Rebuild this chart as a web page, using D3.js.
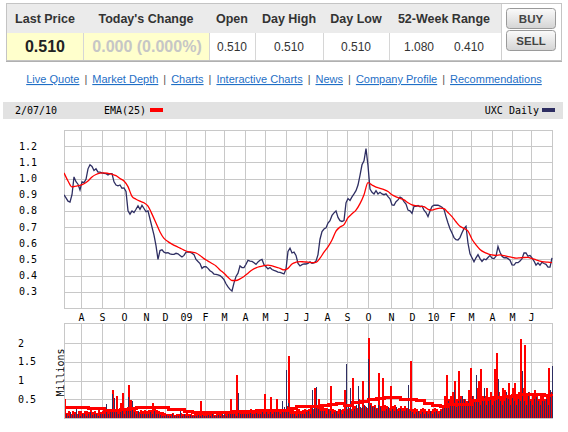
<!DOCTYPE html>
<html><head><meta charset="utf-8">
<script src="https://cdn.jsdelivr.net/npm/d3@7"></script>
<style>body{margin:0;background:#fff}svg{display:block}</style>
</head><body>
<svg id="c" width="568" height="432"></svg>
<script>
// ---------- DATA ----------
const headerLabels = ["Last Price","Today's Change","Open","Day High","Day Low","52-Week Range"];
const lastPrice = "0.510";
const todaysChange = "0.000 (0.000%)";
const quoteValues = ["0.510","0.510","0.510"];      // Open, Day High, Day Low
const rangeValues = ["1.080","0.410"];              // 52-week high / low
const buttonLabels = ["BUY","SELL"];
const linkLabels = ["Live Quote","Market Depth","Charts","Interactive Charts","News","Company Profile","Recommendations"];
const chartDate = "2/07/10";
const emaLabel = "EMA(25)";
const seriesLabel = "UXC Daily";

const monthLabels = ["A","S","O","N","D","09","F","M","A","M","J","J","A","S","O","N","D","10","F","M","A","M","J"];
const monthDays   = [17,38,60,82,101,122,141,160,181,201,222,242,263,283,304,327,348,369,388,407,428,448,467];
const priceTicks = [0.3,0.4,0.5,0.6,0.7,0.8,0.9,1.0,1.1,1.2];
const volTicks = [0.5,1,1.5,2];
const volTickLabels = ["0.5","1","1.5","2"];

// daily close, one value every 2 trading days
const price = [
0.90,0.88,0.86,0.855,0.90,1.01,0.98,0.965,0.93,0.98,
0.975,0.995,1.06,1.085,1.075,1.05,1.06,1.04,1.04,1.035,
1.032,1.03,1.022,1.03,1.03,0.98,0.96,0.955,0.96,0.94,
0.942,0.92,0.80,0.78,0.80,0.79,0.81,0.832,0.81,0.834,
0.815,0.795,0.80,0.75,0.70,0.65,0.585,0.50,0.555,0.56,
0.545,0.54,0.542,0.535,0.532,0.532,0.538,0.535,0.525,0.515,
0.525,0.545,0.545,0.545,0.538,0.53,0.50,0.487,0.475,0.445,
0.455,0.455,0.445,0.43,0.422,0.41,0.408,0.405,0.40,0.39,
0.375,0.35,0.33,0.315,0.305,0.355,0.395,0.415,0.46,0.45,
0.45,0.47,0.495,0.49,0.488,0.48,0.47,0.485,0.495,0.50,
0.468,0.455,0.442,0.45,0.438,0.432,0.428,0.422,0.42,0.415,
0.41,0.44,0.55,0.57,0.54,0.545,0.525,0.475,0.46,0.468,
0.472,0.472,0.475,0.485,0.476,0.478,0.49,0.53,0.625,0.672,
0.688,0.695,0.725,0.74,0.772,0.788,0.80,0.76,0.74,0.735,
0.74,0.85,0.876,0.865,0.887,0.905,0.925,0.96,1.02,1.085,
1.11,1.185,1.08,0.935,0.915,0.905,0.925,0.905,0.915,0.905,
0.90,0.905,0.888,0.875,0.837,0.835,0.857,0.868,0.885,0.878,
0.858,0.842,0.805,0.80,0.785,0.828,0.828,0.833,0.825,0.83,
0.805,0.79,0.765,0.80,0.828,0.835,0.835,0.835,0.83,0.823,
0.81,0.765,0.725,0.69,0.663,0.635,0.622,0.62,0.635,0.665,
0.69,0.705,0.60,0.535,0.51,0.485,0.51,0.53,0.505,0.488,
0.503,0.498,0.512,0.525,0.508,0.505,0.52,0.58,0.545,0.52,
0.51,0.512,0.505,0.495,0.467,0.465,0.48,0.48,0.49,0.505,
0.54,0.54,0.52,0.525,0.51,0.49,0.465,0.478,0.465,0.483,
0.475,0.47,0.452,0.452,0.51];
const priceStep = 2;

// EMA(25), one value every 4 trading days
const ema = [
1.035,0.985,0.948,0.953,0.958,0.968,0.985,1.01,1.025,1.033,
1.035,1.032,1.027,1.018,1.0,0.985,0.95,0.89,0.872,0.86,
0.85,0.83,0.78,0.725,0.67,0.63,0.61,0.595,0.582,0.57,
0.558,0.548,0.545,0.54,0.525,0.505,0.49,0.475,0.46,0.435,
0.415,0.39,0.37,0.37,0.38,0.395,0.415,0.435,0.448,0.456,
0.462,0.465,0.46,0.452,0.445,0.435,0.445,0.472,0.483,0.487,
0.485,0.483,0.48,0.482,0.508,0.545,0.578,0.62,0.675,0.70,
0.715,0.758,0.782,0.805,0.845,0.9,0.975,0.96,0.947,0.94,
0.932,0.92,0.9,0.887,0.877,0.868,0.85,0.837,0.832,0.829,
0.826,0.81,0.805,0.812,0.817,0.814,0.79,0.765,0.733,0.705,
0.692,0.675,0.625,0.59,0.562,0.545,0.535,0.528,0.525,0.528,
0.523,0.518,0.513,0.508,0.51,0.512,0.513,0.505,0.498,0.49,
0.485,0.483,0.48];
const emaStep = 4;

// volume (millions), every 2 trading days: up-day (navy) and down-day (red)
const volUp = [
0.08,0.1,0.05,0.15,0.08,0.12,0.32,0.1,0.06,0.12,
0.1,0.06,0.12,0.15,0.08,0.1,0.12,0.06,0.1,0.12,
0.12,0.37,0.1,0.15,0.65,0.53,0.2,0.12,0.15,0.2,
0.12,0.2,0.55,0.2,0.45,0.15,0.12,0.2,0.12,0.12,
0.1,0.12,0.12,0.15,0.12,0.2,0.12,0.1,0.08,0.06,
0.06,0.08,0.05,0.06,0.1,0.06,0.05,0.06,0.25,0.06,
0.1,0.06,0.05,0.08,0.06,0.05,0.06,0.08,0.06,0.08,
0.06,0.05,0.08,0.06,0.12,0.05,0.06,0.08,0.05,0.1,
0.12,0.06,0.1,0.12,0.2,0.12,0.06,0.68,0.12,0.1,
0.12,0.1,0.12,0.15,0.1,0.12,0.2,0.1,0.12,0.15,
0.12,0.2,0.1,0.15,0.12,0.25,0.15,0.2,0.12,0.45,
0.3,1.28,0.4,0.12,0.1,0.12,0.06,0.12,0.1,0.12,
0.12,0.15,0.2,0.12,0.74,0.3,0.83,0.25,0.2,0.2,
0.2,0.12,0.25,0.2,0.12,0.15,0.2,0.12,0.25,0.12,
0.2,1.44,0.3,0.8,0.2,0.25,0.35,0.85,0.3,0.3,
0.35,0.3,1.57,0.35,0.3,0.3,0.25,0.35,0.3,0.2,
0.2,0.25,0.3,0.2,0.25,0.2,0.3,0.2,0.25,0.2,
0.2,0.25,0.89,0.2,0.15,0.12,0.15,0.2,0.12,0.15,
0.12,0.15,0.12,0.2,0.12,0.15,0.2,0.12,0.2,0.25,
0.35,0.3,0.45,0.35,0.4,0.74,0.3,0.45,0.5,0.6,
0.5,0.35,0.45,0.35,0.6,0.45,1.14,0.5,0.35,0.45,
0.8,0.35,0.45,0.5,0.35,0.45,0.6,1.03,0.45,0.35,
0.45,0.7,0.5,0.35,0.6,0.45,0.35,0.5,0.45,1.25,
0.45,0.35,0.7,0.45,0.35,0.5,0.55,0.45,0.35,0.45,
0.45,0.5,0.35,0.74,1.39];
const volDown = [
0.5,0.14,0.18,0.12,0.2,0.15,0.1,0.18,0.18,0.14,
0.18,0.2,0.15,0.22,0.17,0.2,0.14,0.22,0.17,0.18,
0.2,0.17,0.22,0.25,0.74,0.22,0.6,0.2,0.4,0.66,
0.22,0.2,0.89,0.48,0.25,0.22,0.2,0.17,0.22,0.2,
0.22,0.2,0.22,0.22,0.41,0.25,0.22,0.2,0.15,0.17,
0.14,0.12,0.1,0.1,0.14,0.08,0.11,0.1,0.14,0.11,
0.11,0.14,0.1,0.11,0.08,0.14,0.11,0.14,0.46,0.11,
0.17,0.14,0.2,0.11,0.14,0.08,0.1,0.11,0.14,0.08,
0.11,0.14,0.2,0.5,0.15,0.17,1.14,0.2,0.17,0.15,
0.2,0.15,0.18,0.25,0.15,0.2,0.18,0.15,0.2,0.25,
0.65,0.2,0.18,0.55,0.25,0.2,0.5,0.2,0.2,0.2,
0.25,0.32,1.65,0.28,0.24,0.19,0.21,0.24,0.19,0.21,
0.24,0.22,0.24,0.28,0.24,0.8,0.26,0.5,0.28,0.32,
0.26,0.28,0.24,0.86,0.24,0.22,0.19,0.24,0.22,0.24,
0.74,0.24,0.28,0.24,1.07,0.32,0.28,0.5,0.28,0.98,
0.32,0.28,2.15,0.4,0.32,0.36,0.28,1.19,0.32,1.07,
0.36,0.32,0.28,0.86,0.32,0.36,0.24,0.28,0.32,0.28,
0.32,0.28,0.24,1.53,0.24,0.28,0.24,0.2,0.24,0.28,
0.24,0.2,0.24,0.2,0.24,0.28,0.24,0.2,0.24,0.32,
0.6,1.16,0.5,0.6,0.7,1.0,0.5,1.25,0.6,0.5,
0.5,0.45,0.75,1.35,0.6,0.5,0.8,1.0,1.3,0.6,
0.6,0.8,0.5,0.7,0.6,1.3,1.75,0.7,0.6,0.8,
0.75,0.6,0.94,0.6,0.8,0.94,0.6,0.7,2.12,0.8,
1.94,0.6,0.7,0.5,0.6,0.75,0.6,0.5,0.66,0.6,
0.5,0.6,1.35,0.7,0.6];
const volStep = 2;

// volume moving average (millions), one value every 8 trading days
const volAvg = [
0.27,0.27,0.27,0.26,0.25,0.2,0.2,0.22,0.26,0.28,
0.28,0.28,0.27,0.23,0.22,0.18,0.16,0.15,0.14,0.14,
0.14,0.17,0.18,0.18,0.19,0.21,0.21,0.21,0.25,0.3,
0.3,0.32,0.33,0.36,0.38,0.33,0.42,0.45,0.5,0.52,
0.55,0.55,0.5,0.5,0.48,0.4,0.33,0.32,0.35,0.37,
0.35,0.46,0.5,0.53,0.55,0.57,0.6,0.62,0.62,0.62,
0.6,0.58];
const volAvgStep = 8;
const totalDays = 488;

// ---------- DRAW ----------
const svg = d3.select("#c");
const SANS = "'Liberation Sans', Arial, sans-serif";
const MONO = "'DejaVu Sans Mono', monospace";
const NAVY = "#2e2e62";
const RED = "#ff0000";
const GRID = "#c8c8c8";

// quote table
const colEdges = [6,83,209,255,323,389,501,561];
const tbl = svg.append("g");
tbl.append("rect").attr("x",6).attr("y",3).attr("width",495).attr("height",30).attr("fill","#ebebeb");
tbl.append("rect").attr("x",6).attr("y",33).attr("width",203).attr("height",28).attr("fill","#ffffcc");
tbl.append("rect").attr("x",209).attr("y",33).attr("width",292).attr("height",28).attr("fill","#ffffff");
tbl.selectAll("line.sep").data(colEdges.slice(1,6)).join("line")
  .attr("x1",d=>d+0.5).attr("x2",d=>d+0.5).attr("y1",33).attr("y2",61)
  .attr("stroke","#d6d6d6");
tbl.append("line").attr("x1",501.5).attr("x2",501.5).attr("y1",3).attr("y2",61).attr("stroke","#cfcfcf");
tbl.append("rect").attr("x",6.5).attr("y",3.5).attr("width",555).attr("height",57)
  .attr("fill","none").attr("stroke","#c4c4c4");
tbl.append("line").attr("x1",6).attr("x2",562).attr("y1",61.5).attr("y2",61.5).attr("stroke","#b0b0b0");

const colCenters = [45,146,232,289,356,444];
tbl.selectAll("text.h").data(headerLabels).join("text")
  .attr("x",(d,i)=>colCenters[i]).attr("y",23).attr("text-anchor","middle")
  .attr("font-family",SANS).attr("font-weight","bold").attr("font-size","12.5px").attr("fill","#333")
  .text(d=>d);
tbl.append("text").attr("x",45).attr("y",52).attr("text-anchor","middle")
  .attr("font-family",SANS).attr("font-weight","bold").attr("font-size","16px").attr("fill","#222").text(lastPrice);
tbl.append("text").attr("x",147).attr("y",52).attr("text-anchor","middle")
  .attr("font-family",SANS).attr("font-weight","bold").attr("font-size","16px").attr("fill","#c6c6c6").text(todaysChange);
const valCenters = [232,289,356];
tbl.selectAll("text.v").data(quoteValues).join("text")
  .attr("x",(d,i)=>valCenters[i]).attr("y",51).attr("text-anchor","middle")
  .attr("font-family",SANS).attr("font-size","12px").attr("fill","#333").text(d=>d);
const rangeCenters = [419,469];
tbl.selectAll("text.r").data(rangeValues).join("text")
  .attr("x",(d,i)=>rangeCenters[i]).attr("y",51).attr("text-anchor","middle")
  .attr("font-family",SANS).attr("font-size","12px").attr("fill","#333").text(d=>d);

// buttons
const defs = svg.append("defs");
const grad = defs.append("linearGradient").attr("id","btn").attr("x1",0).attr("x2",0).attr("y1",0).attr("y2",1);
grad.append("stop").attr("offset","0%").attr("stop-color","#fbfbfb");
grad.append("stop").attr("offset","100%").attr("stop-color","#d4d4d4");
const btn = svg.selectAll("g.btn").data(buttonLabels).join("g").attr("transform",(d,i)=>`translate(506,${8+i*22})`);
btn.append("rect").attr("x",0.5).attr("y",0.5).attr("width",49).attr("height",20).attr("rx",3)
  .attr("fill","url(#btn)").attr("stroke","#9a9a9a");
btn.append("text").attr("x",25).attr("y",14.5).attr("text-anchor","middle")
  .attr("font-family",SANS).attr("font-weight","bold").attr("font-size","11.5px").attr("fill","#444").text(d=>d);

// links row
const linkText = svg.append("text").attr("x",284).attr("y",83).attr("text-anchor","middle")
  .attr("font-family",SANS).attr("font-size","11px");
linkLabels.forEach((l,i)=>{
  if(i>0) linkText.append("tspan").attr("dx",5).attr("fill","#555").text("|");
  linkText.append("tspan").attr("dx",i>0?5:0).attr("fill","#1f6fc6").attr("text-decoration","underline").text(l);
});

// chart header bar
svg.append("rect").attr("x",3).attr("y",102).attr("width",560).attr("height",17).attr("fill","#e2e2e2");
svg.append("text").attr("x",15).attr("y",114).attr("font-family",MONO).attr("font-size","10px").attr("fill","#000").text(chartDate);
svg.append("text").attr("x",104).attr("y",114).attr("font-family",MONO).attr("font-size","10px").attr("fill","#000").text(emaLabel);
svg.append("rect").attr("x",150).attr("y",108).attr("width",13).attr("height",4).attr("fill",RED);
svg.append("text").attr("x",539).attr("y",114).attr("text-anchor","end").attr("font-family",MONO).attr("font-size","10px").attr("fill","#000").text(seriesLabel);
svg.append("rect").attr("x",542).attr("y",108).attr("width",13).attr("height",4).attr("fill",NAVY);

// scales
const x = d3.scaleLinear().domain([0,totalDays]).range([64,552]);
const yP = d3.scaleLinear().domain([0.2,1.3]).range([308,130]);
const yV = d3.scaleLinear().domain([0,2.54]).range([418,323]);

function panel(top,bottom,yScale,ticks){
  const g = svg.append("g");
  g.append("rect").attr("x",64).attr("y",top).attr("width",488).attr("height",bottom-top).attr("fill","#fff");
  const gx = g.append("g").attr("transform",`translate(0,${bottom})`)
    .call(d3.axisBottom(x).tickValues(monthDays).tickSize(-(bottom-top)).tickFormat(""));
  const gy = g.append("g").attr("transform","translate(64,0)")
    .call(d3.axisLeft(yScale).tickValues(ticks).tickSize(-488).tickFormat(""));
  [gx,gy].forEach(a=>{a.select(".domain").remove(); a.selectAll("line").attr("stroke",GRID).attr("shape-rendering","crispEdges");});
  g.append("rect").attr("x",64.5).attr("y",top+0.5).attr("width",488).attr("height",bottom-top)
    .attr("fill","none").attr("stroke",GRID).attr("shape-rendering","crispEdges");
  return g;
}
panel(130,308,yP,priceTicks);
panel(323,418,yV,volTicks);

defs.append("clipPath").attr("id","clipP").append("rect").attr("x",64).attr("y",130).attr("width",489).attr("height",178);
defs.append("clipPath").attr("id","clipV").append("rect").attr("x",65).attr("y",323).attr("width",488).attr("height",95);

// y labels
svg.selectAll("text.py").data(priceTicks).join("text")
  .attr("x",19).attr("y",d=>yP(d)+3.5).attr("font-family",MONO).attr("font-size","10px").attr("fill","#000")
  .text(d=>d3.format(".1f")(d));
svg.selectAll("text.vy").data(volTicks).join("text")
  .attr("x",18).attr("y",d=>yV(d)+3.5).attr("font-family",MONO).attr("font-size","10px").attr("fill","#000")
  .text((d,i)=>volTickLabels[i]);
svg.append("text").attr("transform","translate(64,372.5) rotate(-90)").attr("text-anchor","middle")
  .attr("font-family",MONO).attr("font-size","10px").attr("fill","#000").text("Millions");

// month labels
svg.selectAll("text.m").data(monthDays).join("text")
  .attr("x",d=>x(d)+0.5).attr("y",321).attr("text-anchor","middle")
  .attr("font-family",MONO).attr("font-size","10px").attr("fill","#000")
  .text((d,i)=>monthLabels[i]);

// volume bars: red (2px slot) first, navy 1px drawn over it
const vg = svg.append("g").attr("clip-path","url(#clipV)").attr("shape-rendering","crispEdges");
vg.append("g").selectAll("rect").data(volDown).join("rect")
  .attr("x",(d,i)=>x(i*volStep)).attr("width",2)
  .attr("y",d=>yV(d)).attr("height",d=>yV(0)-yV(d)).attr("fill",RED);
vg.append("g").selectAll("rect").data(volUp).join("rect")
  .attr("x",(d,i)=>x(i*volStep)).attr("width",1)
  .attr("y",d=>yV(d)).attr("height",d=>yV(0)-yV(d)).attr("fill",NAVY);
vg.append("path").datum(volAvg)
  .attr("d",d3.line().x((d,i)=>x(i*volAvgStep)).y(d=>yV(d)).curve(d3.curveStepAfter))
  .attr("fill","none").attr("stroke",RED).attr("stroke-width",3);

// price + EMA lines
const pg = svg.append("g").attr("clip-path","url(#clipP)");
pg.append("path").datum(price)
  .attr("d",d3.line().x((d,i)=>x(i*priceStep)).y(d=>yP(d)))
  .attr("fill","none").attr("stroke",NAVY).attr("stroke-width",1.3);
pg.append("path").datum(ema)
  .attr("d",d3.line().x((d,i)=>x(i*emaStep)).y(d=>yP(d)).curve(d3.curveMonotoneX))
  .attr("fill","none").attr("stroke",RED).attr("stroke-width",1.3);
</script>
</body></html>
